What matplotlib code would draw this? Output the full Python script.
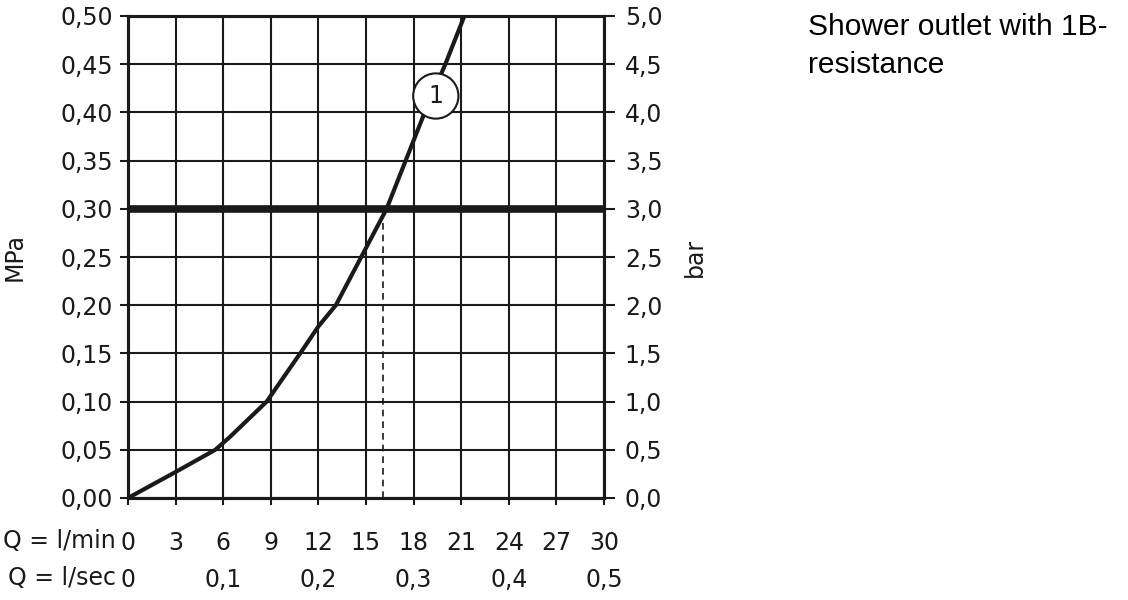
import numpy as np
import matplotlib
matplotlib.use("Agg")
import matplotlib.pyplot as plt
import matplotlib.ticker as ticker

matplotlib.rcParams["font.family"] = "DejaVu Sans"

# flow rate (l/min) vs. pressure (MPa), curve 1
q_lpm = [0, 3, 5.5, 6.4, 8.74, 10.85, 12, 13.1, 14.7, 16.3, 17.5, 18.7, 20.0, 21.2]
p_mpa = [0, 0.027, 0.05, 0.063, 0.10, 0.15, 0.178, 0.20, 0.25, 0.30, 0.35, 0.40, 0.45, 0.50]

p_ref = 0.30          # thick reference line
q_at_ref = 16.1       # dashed drop line
label_pos = (19.4, 0.417)

x_ticks = list(range(0, 31, 3))
y_ticks = np.arange(0, 0.501, 0.05)
bar_ticks = np.arange(0, 5.01, 0.5)
lsec_ticks = [0, 0.1, 0.2, 0.3, 0.4, 0.5]

title = "Shower outlet with 1B-\nresistance"

ink = "#1a1a1a"
fs = 17

fig = plt.figure(figsize=(11.28, 6), dpi=100)
ax = fig.add_axes([128 / 1128, 1 - 498 / 600, 476 / 1128, 482 / 600])

ax.set_xlim(0, 30)
ax.set_ylim(0, 0.5)
ax.set_xticks(x_ticks)
ax.set_yticks(y_ticks)
ax.yaxis.set_major_formatter(ticker.FuncFormatter(lambda v, p: f"{v:.2f}".replace(".", ",")))
ax.grid(True, color=ink, linewidth=1.5)
ax.set_axisbelow(True)
for sp in ax.spines.values():
    sp.set_linewidth(2.2)
    sp.set_color(ink)

ax.tick_params(axis="y", length=6, width=1.5, pad=5, labelsize=fs, colors=ink)
ax.tick_params(axis="x", length=5, width=1.5, pad=18.5, labelsize=fs, colors=ink)

# thick 0.30 MPa line
ax.axhline(p_ref, color=ink, linewidth=5.5, zorder=3)
# dashed drop line
ax.plot([q_at_ref, q_at_ref], [0, p_ref], color=ink, linewidth=1.2,
        linestyle=(0, (4, 3)), zorder=3)
# the curve
ax.plot(q_lpm, p_mpa, color=ink, linewidth=3, zorder=4, solid_joinstyle="round")

ax.text(label_pos[0], label_pos[1], "1", ha="center", va="center", fontsize=fs,
        color=ink, zorder=5,
        bbox=dict(boxstyle="circle,pad=0.45", facecolor="white", edgecolor=ink, linewidth=1.5))

ax.set_ylabel("MPa", fontsize=fs, color=ink)
ax.yaxis.set_label_coords(-0.212, 0.5)

# right axis in bar
ax2 = ax.twinx()
ax2.set_ylim(0, 5)
ax2.set_yticks(bar_ticks)
ax2.yaxis.set_major_formatter(ticker.FuncFormatter(lambda v, p: f"{v:.1f}".replace(".", ",")))
ax2.tick_params(axis="y", length=8, width=1.5, pad=7, labelsize=fs, colors=ink)
for sp in ax2.spines.values():
    sp.set_linewidth(2.2)
    sp.set_color(ink)
ax2.set_ylabel("bar", fontsize=fs, color=ink, rotation=90)
ax2.yaxis.set_label_coords(1.166, 0.5)

# second x row: l/sec
sec = ax.secondary_xaxis(-0.077, functions=(lambda q: q / 60, lambda s: s * 60))
sec.set_xticks(lsec_ticks)
sec.xaxis.set_major_formatter(ticker.FuncFormatter(
    lambda v, p: "0" if v == 0 else f"{v:.1f}".replace(".", ",")))
sec.tick_params(axis="x", length=0, pad=18.5 + 5, labelsize=fs, colors=ink)
sec.spines["bottom"].set_visible(False)

ax.text(-0.025, -0.089, "Q = l/min", transform=ax.transAxes, ha="right", va="center",
        fontsize=fs, color=ink)
ax.text(-0.025, -0.166, "Q = l/sec", transform=ax.transAxes, ha="right", va="center",
        fontsize=fs, color=ink)

fig.text(808 / 1128, 1 - 13 / 600, title, ha="left", va="top", fontsize=21.5,
         family="Liberation Sans", color="black", linespacing=1.45)

fig.savefig("out.png", dpi=100)
